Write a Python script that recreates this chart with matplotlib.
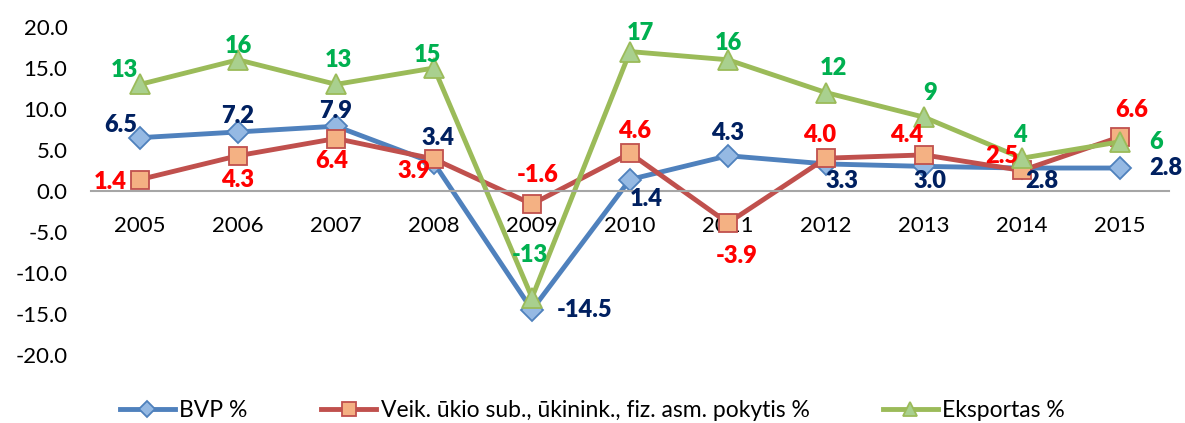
import matplotlib.pyplot as plt

plt.rcParams['font.family'] = ['Lato', 'DejaVu Sans']

years = ['2005', '2006', '2007', '2008', '2009', '2010', '2011', '2012', '2013', '2014', '2015']
bvp = [6.5, 7.2, 7.9, 3.4, -14.5, 1.4, 4.3, 3.3, 3.0, 2.8, 2.8]
veik = [1.4, 4.3, 6.4, 3.9, -1.6, 4.6, -3.9, 4.0, 4.4, 2.5, 6.6]
eksportas = [13, 16, 13, 15, -13, 17, 16, 12, 9, 4, 6]

# label offsets in pixels (dx right, dy up) for each point
bvp_off = [(-19, 13), (0, 16), (0, 15), (4, 25), (53, 0), (16, -19),
           (0, 23), (16, -17), (6, -15), (20, -13), (46, 0)]
veik_off = [(-30, -2), (0, -24), (-4, -22), (-20, -12), (6, 29), (5, 22),
            (9, -33), (-6, 23), (-17, 20), (-20, 14), (12, 27)]
eks_off = [(-16, 14), (0, 14), (2, 24), (-7, 13), (-2, 43), (10, 19),
           (0, 17), (7, 25), (6, 24), (-2, 23), (36, 0)]

fig = plt.figure(figsize=(11.85, 4.23), dpi=100)
ax = fig.add_axes([0.0768, 0.1608, 0.9097, 0.7754])

x = list(range(len(years)))

series = [
    (bvp, 'BVP %', '#4F81BD', '#95B9E3', 'D', 11, '#002060', bvp_off, '{:.1f}'),
    (veik, 'Veik. ūkio sub., ūkinink., fiz. asm. pokytis %', '#C0504D', '#F4B183', 's', 13, '#FF0000', veik_off, '{:.1f}'),
    (eksportas, 'Eksportas %', '#9BBB59', '#A9D08E', '^', 14, '#00B050', eks_off, '{:d}'),
]

for vals, name, lc, fc, mk, ms, tc, offs, fmt in series:
    ax.plot(x, vals, color=lc, lw=3.5, marker=mk, markersize=ms,
            markerfacecolor=fc, markeredgecolor=lc, markeredgewidth=1.3, label=name)
    for xi, v, (dx, dy) in zip(x, vals, offs):
        ax.annotate(fmt.format(v), (xi, v), xytext=(dx * 0.72, dy * 0.72),
                    textcoords='offset points', ha='center', va='center',
                    fontsize=17, fontweight='heavy', color=tc, zorder=5)

ax.set_xlim(-0.5, len(years) - 0.5)
ax.set_ylim(-20, 20)
ax.set_yticks([20, 15, 10, 5, 0, -5, -10, -15, -20])
ax.set_yticklabels(['{:.1f}'.format(t) for t in [20, 15, 10, 5, 0, -5, -10, -15, -20]])
ax.set_xticks(x)
ax.set_xticklabels(years)

for s in ['top', 'right', 'left']:
    ax.spines[s].set_visible(False)
ax.spines['bottom'].set_position(('data', 0))
ax.spines['bottom'].set_color('#A6A6A6')
ax.spines['bottom'].set_linewidth(1.5)

ax.tick_params(axis='y', length=0, pad=17, labelsize=16)
ax.tick_params(axis='x', length=0, pad=18, labelsize=16)

fig.legend(loc='lower center', bbox_to_anchor=(0.5, -0.045), ncol=3, frameon=False,
           fontsize=16.5, handlelength=2.4, columnspacing=3.2, handletextpad=0.2,
           markerscale=0.75)

fig.savefig('out.png', dpi=100)
